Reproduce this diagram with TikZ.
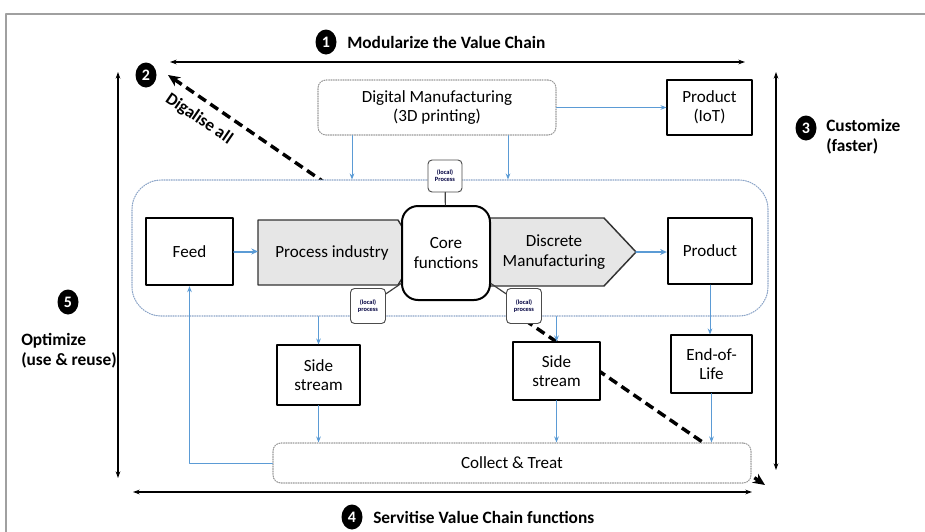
\documentclass[tikz,border=0pt]{standalone}
\usepackage{fontspec}
\setmainfont{Carlito}
\usetikzlibrary{arrows.meta,shapes.geometric,calc}
\definecolor{flowblue}{RGB}{91,155,213}
\definecolor{chainline}{RGB}{140,165,200}
\definecolor{chevfill}{RGB}{230,230,230}
\definecolor{framegray}{RGB}{160,160,160}
\newcommand{\pxu}{0.75pt}

\begin{document}
\begin{tikzpicture}[x=0.75pt,y=-0.75pt,line cap=round,line join=round,
    font=\fontsize{12.8}{14.5}\selectfont,
    box/.style={draw,fill=white,line width=0.8pt,align=center,inner sep=0pt},
    thickbox/.style={box,line width=1.8pt},
    dotbox/.style={draw=gray!80,densely dotted,line width=0.8pt,fill=white,rounded corners=6pt,align=center,inner sep=0pt},
    chevbody/.style={inner sep=0pt,outer sep=0pt},
    chevron/.style={draw=black!80,line width=1.1pt,fill=chevfill},
    chevtext/.style={align=center,inner sep=0pt},
    localbox/.style={draw=black!70,line width=0.7pt,fill=white,rounded corners=3pt,align=center,inner sep=0pt,
        font=\fontsize{4.8}{5.4}\selectfont\bfseries,text=black!75!blue,minimum width=34*\pxu,minimum height=32*\pxu},
    badge/.style={ellipse,fill=black,text=white,inner sep=0pt,minimum width=21*\pxu,minimum height=25*\pxu,
        font=\fontsize{12}{14}\selectfont\bfseries},
    lbl/.style={anchor=west,align=left,inner sep=0pt,font=\fontsize{13}{15}\selectfont\bfseries},
    flow/.style={-{Stealth[length=4.5pt,width=3.5pt]},draw=flowblue,line width=0.7pt},
    mainflow/.style={flow,line width=1.5pt,-{Stealth[length=5pt,width=4.5pt]}},
    span/.style={{Stealth[length=5pt,width=3.5pt]}-{Stealth[length=5pt,width=3.5pt]},line width=1pt},
    digi/.style={{Stealth[length=9pt,width=8pt]}-{Stealth[length=9pt,width=8pt]},line width=2.6pt,dash pattern=on 7pt off 4pt,line cap=butt}]
  \useasboundingbox (0,0) rectangle (925,532);
  % frame
  \draw [framegray,line width=2pt,line cap=butt] (6,532) -- (6,14) -- (925,14);

  % value chain spans
  \coordinate (topL) at (170,62);
  \coordinate (topR) at (745,62);
  \coordinate (lefT) at (118,72);
  \coordinate (lefB) at (118,478);
  \coordinate (rigT) at (776,72);
  \coordinate (rigB) at (776,470);
  \coordinate (botL) at (133,492);
  \coordinate (botR) at (752,492);
  \draw [span] (topL) -- (topR);
  \draw [span] (lefT) -- (lefB);
  \draw [span] (rigT) -- (rigB);
  \draw [span] (botL) -- (botR);

  % digitalisation line (runs behind the boxes)
  \coordinate (digA) at (168,75);
  \coordinate (digB) at (765,485);
  \draw [digi] (digA) -- (digB);

  % badges and their labels
  \node [badge] (b1) at (326,42) {1};
  \node [lbl] (t1) at (347,42) {Modularize the Value Chain};
  \node [badge] (b2) at (146,75) {2};
  \node [lbl,anchor=center,rotate=-34.5] (t2) at (199,119) {Digalise all};
  \node [badge] (b3) at (806,128) {3};
  \node [lbl] (t3) at (826,137) {Customize\\(faster)};
  \node [badge] (b4) at (352,517) {4};
  \node [lbl] (t4) at (373,517) {Servitise Value Chain functions};
  \node [badge] (b5) at (68,302) {5};
  \node [lbl] (t5) at (21,351) {Optimize\\(use \& reuse)};

  % digital manufacturing row
  \node [dotbox,minimum width=238*\pxu,minimum height=55*\pxu] (dm) at (437,107.5) {Digital Manufacturing\\(3D printing)};
  \node [box,minimum width=85*\pxu,minimum height=55*\pxu] (iot) at (709.5,107.5) {Product\\(IoT)};

  % value chain container
  \node [draw=chainline,densely dotted,line width=0.8pt,fill=white,rounded corners=22pt,
         minimum width=636*\pxu,minimum height=136*\pxu] (chain) at (450,248) {};

  \node [thickbox,minimum width=87*\pxu,minimum height=67*\pxu] (feed) at (189.5,251.5) {Feed};

  % chevrons
  \node [chevbody,minimum width=160*\pxu,minimum height=65*\pxu] (proc) at (338,252.5) {};
  \draw [chevron] (proc.north west) -- ($(proc.north east)+(-20,0)$) -- (proc.east)
        -- ($(proc.south east)+(-20,0)$) -- (proc.south west) -- cycle;
  \node [chevtext] (proctxt) at (332,252.5) {Process industry};
  \node [chevbody,minimum width=158*\pxu,minimum height=68*\pxu] (disc) at (557,252) {};
  \draw [chevron] (disc.north west) -- ($(disc.north east)+(-32,0)$) -- (disc.east)
        -- ($(disc.south east)+(-32,0)$) -- (disc.south west) -- cycle;
  \node [chevtext] (disctxt) at (554,252) {Discrete\\Manufacturing};

  \node [box,line width=1.5pt,rounded corners=12pt,minimum width=88*\pxu,minimum height=94*\pxu] (core) at (446,253) {Core\\functions};
  \node [thickbox,minimum width=84*\pxu,minimum height=66*\pxu] (prod) at (710,251) {Product};

  \node [localbox] (lpt) at (445,176) {(local)\\Process};
  \node [localbox,minimum width=35*\pxu,minimum height=35*\pxu] (lpl) at (368,306) {(local)\\process};
  \node [localbox,minimum width=35*\pxu,minimum height=35*\pxu] (lpr) at (524,306) {(local)\\process};
  \draw [black!75,line width=0.9pt] (lpt) -- (core);
  \draw [black!75,line width=0.9pt] (lpl) -- (core);
  \draw [black!75,line width=0.9pt] (lpr) -- (core);

  % side streams and end of life
  \node [box,minimum width=83*\pxu,minimum height=60*\pxu] (ssl) at (318.5,375) {Side\\stream};
  \node [box,minimum width=87*\pxu,minimum height=58*\pxu] (ssr) at (556.5,371) {Side\\stream};
  \node [box,minimum width=81*\pxu,minimum height=58*\pxu] (eol) at (711.5,364) {End-of-\\Life};
  \node [dotbox,minimum width=478*\pxu,minimum height=40*\pxu] (ct) at (512,463) {Collect \& Treat};

  % flows
  \draw [flow] (dm.east) -- (iot.west);
  \draw [flow] (dm.south -| 352,0) -- (chain.north -| 352,0);
  \draw [flow] (dm.south -| 508,0) -- (chain.north -| 508,0);
  \draw [mainflow] (feed.east) -- (feed.east -| proc.west);
  \draw [mainflow] (disc.east) -- (disc.east -| prod.west);
  \draw [flow] (ssl.north |- chain.south) -- (ssl.north);
  \draw [flow] (ssr.north |- chain.south) -- (ssr.north);
  \draw [flow] (prod.south) -- (prod.south |- eol.north);
  \draw [flow] (ssl.south) -- (ssl.south |- ct.north);
  \draw [flow] (ssr.south) -- (ssr.south |- ct.north);
  \draw [flow] (eol.south) -- (eol.south |- ct.north);
  \draw [flow] (ct.west) -| (feed.south);
\end{tikzpicture}
\end{document}
